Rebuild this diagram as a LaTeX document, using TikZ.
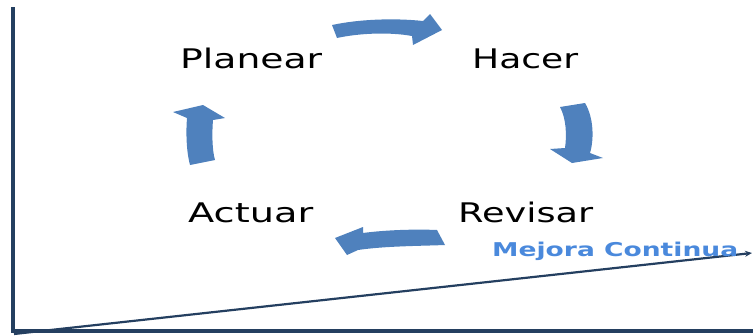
\documentclass[tikz,border=0pt]{standalone}
\usepackage{fontspec}
\usepackage{graphicx}
\setmainfont{DejaVu Sans}
\usetikzlibrary{arrows.meta}
\definecolor{axisnavy}{RGB}{36,63,96}
\definecolor{blockblue}{RGB}{79,129,189}
\definecolor{labelblue}{RGB}{74,137,220}
\tikzset{
  axisline/.style={draw=axisnavy, line width=3.6pt},
  trendline/.style={draw=axisnavy, line width=2.2pt, -{Stealth[length=7pt,width=6pt]}},
  blockarrow/.style={fill=blockblue, draw=none},
  stagelabel/.style={inner sep=0pt, anchor=base west, font=\fontsize{27}{30}\selectfont},
  trendlabel/.style={inner sep=0pt, anchor=base west, text=labelblue, font=\bfseries\fontsize{19}{21}\selectfont}
}
\begin{document}
\begin{tikzpicture}[x=1pt,y=-1pt]
\useasboundingbox (0,0) rectangle (753,335);
% axes
\coordinate (ytop) at (13,7);
\coordinate (origin) at (13,331);
\coordinate (xend) at (753,331);
\coordinate (tstart) at (14,334);
\coordinate (tend) at (752,253);
\draw[axisline] (ytop) -- (origin) -- (xend);
\draw[trendline] (tstart) -- (tend);
% labels
\node[stagelabel] (planear) at (180,68) {\resizebox{142pt}{\height}{Planear}};
\node[stagelabel] (hacer) at (472,68) {\resizebox{106pt}{\height}{Hacer}};
\node[stagelabel] (actuar) at (188,222) {\resizebox{125pt}{\height}{Actuar}};
\node[stagelabel] (revisar) at (458,222) {\resizebox{135pt}{\height}{Revisar}};
\node[trendlabel] (mejora) at (492,256) {\resizebox{246pt}{\height}{Mejora Continua}};
% block arrows
\fill[blockarrow] (332,25) .. controls (360,19) and (395,18) .. (423,21) -- (430,14) -- (442,30) -- (413,45) -- (412,36) .. controls (390,32) and (360,33) .. (337,38) -- cycle;
\fill[blockarrow] (560,107) -- (585,103) .. controls (594,118) and (594,140) .. (590,153) -- (603,158) -- (572,163) -- (550,149) -- (565,148) .. controls (567,135) and (566,118) .. (560,107) -- cycle;
\fill[blockarrow] (437,230) -- (445,245) .. controls (420,246) and (385,246) .. (358,250) -- (347,255) -- (335,238) -- (363,227) -- (363,233) .. controls (385,230) and (415,229) .. (437,230) -- cycle;
\fill[blockarrow] (190,165) -- (215,160) .. controls (212,150) and (212,132) .. (213,120) -- (225,118) -- (203,105) -- (173,112) -- (187,118) .. controls (186,130) and (186,150) .. (190,165) -- cycle;
\end{tikzpicture}
\end{document}
